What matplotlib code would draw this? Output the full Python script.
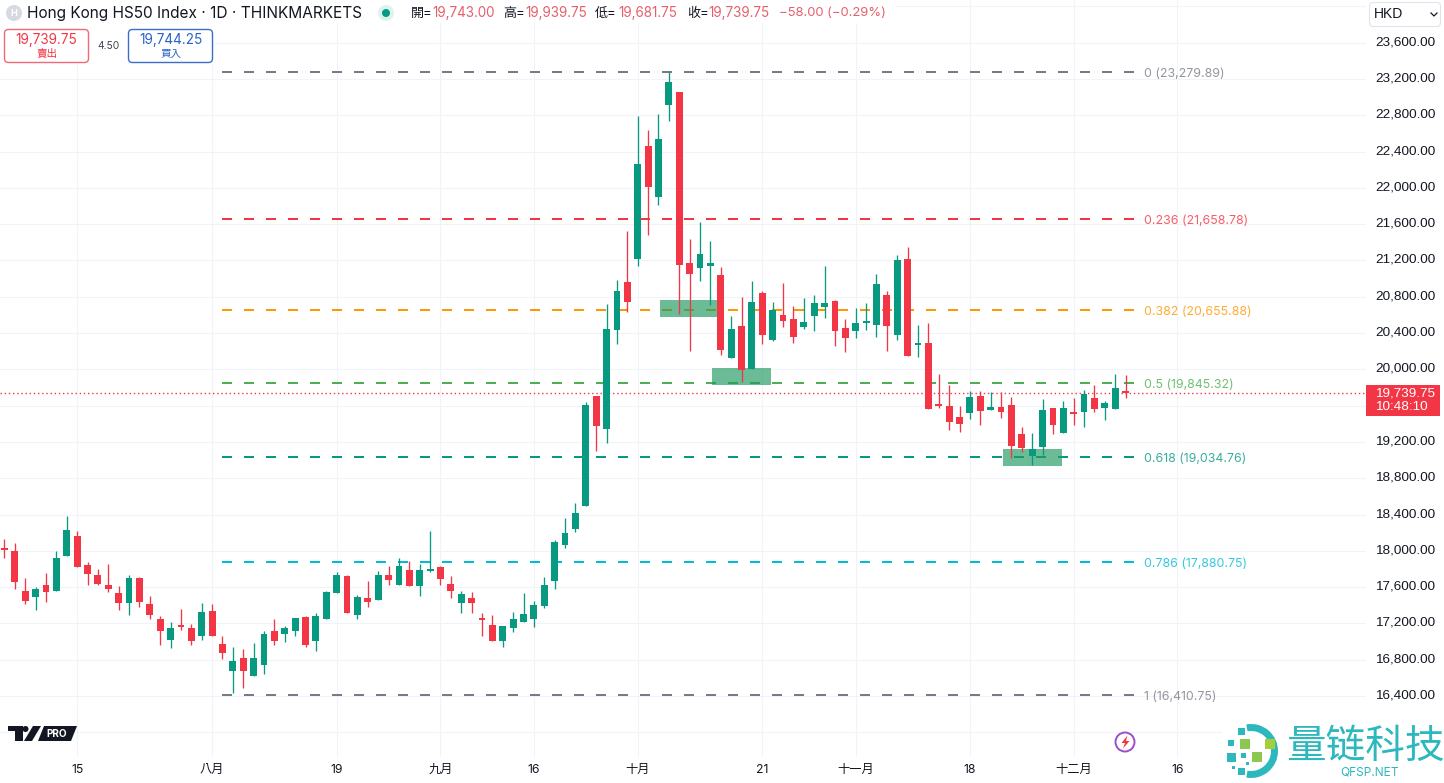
import matplotlib
matplotlib.use("Agg")
import matplotlib.pyplot as plt
from matplotlib.patches import Rectangle, FancyBboxPatch, Circle, Polygon, Wedge
from matplotlib.transforms import ScaledTranslation

plt.rcParams['font.family'] = ['Inter', 'Noto Sans CJK TC', 'DejaVu Sans']

opens = [18032, 17999, 17558, 17492, 17624, 17558, 17944, 18165, 17845, 17735,
         17624, 17536, 17426, 17701, 17415, 17249, 17018, 17172, 17150, 17062,
         17337, 16974, 16676, 16819, 16621, 16742, 17117, 17084, 17117, 17271,
         17007, 17249, 17536, 17724, 17293, 17481, 17459, 17735, 17624, 17790,
         17613, 17779, 17823, 17635, 17426, 17481, 17260, 17183, 17007, 17150,
         17216, 17249, 17393, 17668, 18065, 18242, 18496, 19709, 19345, 20437,
         20966, 21220, 22466, 21904, 22908, 23051, 21176, 21121, 21143, 21044,
         20128, 20481, 20007, 20845, 20327, 20602, 20558, 20470, 20591, 20691,
         20757, 20459, 20426, 20514, 20492, 20823, 20382, 21220, 20271, 20294,
         19610, 19599, 19477, 19521, 19709, 19555, 19588, 19610, 19290, 19047,
         19146, 19577, 19301, 19521, 19532, 19687, 19577, 19566, 19743]
highs = [18132, 18084, 17698, 17599, 17753, 17999, 18385, 18220, 17875, 17797,
         17856, 17613, 17735, 17709, 17503, 17282, 17216, 17360, 17194, 17426,
         17415, 17062, 16940, 16918, 16985, 17117, 17249, 17172, 17260, 17282,
         17315, 17558, 17768, 17735, 17514, 17668, 17779, 17834, 17922, 17889,
         17856, 18220, 17834, 17724, 17558, 17547, 17315, 17293, 17172, 17326,
         17536, 17448, 17713, 18121, 18363, 18529, 19643, 19709, 20724, 20988,
         21529, 22797, 22632, 22819, 23280, 23051, 21441, 21628, 21419, 21132,
         20591, 20801, 20977, 20867, 20746, 20955, 20702, 20790, 20823, 21143,
         20768, 20558, 20680, 20735, 21055, 20867, 21264, 21352, 20492, 20514,
         19952, 19830, 19599, 19764, 19764, 19753, 19753, 19698, 19367, 19301,
         19676, 19577, 19654, 19687, 19775, 19830, 19654, 19952, 19939.75]
lows = [17922, 17580, 17415, 17349, 17440, 17558, 17944, 17823, 17624, 17624,
        17550, 17349, 17293, 17385, 17249, 16962, 16929, 17128, 16962, 17018,
        17062, 16808, 16433, 16488, 16621, 16643, 16962, 16996, 17062, 16940,
        16896, 17249, 17536, 17315, 17249, 17382, 17459, 17624, 17624, 17613,
        17503, 17768, 17624, 17481, 17315, 17315, 17062, 17007, 16940, 17106,
        17216, 17161, 17371, 17580, 18032, 18209, 18496, 19102, 19191, 20283,
        20635, 21143, 21485, 21816, 22742, 20613, 20205, 20977, 20713, 20161,
        20128, 19863, 20007, 20283, 20316, 20470, 20294, 20448, 20426, 20569,
        20260, 20194, 20349, 20437, 20360, 20205, 20327, 20150, 20139, 19566,
        19577, 19334, 19312, 19455, 19389, 19555, 19466, 19025, 19091, 18948,
        19058, 19290, 19301, 19389, 19367, 19532, 19444, 19566, 19681.75]
closes = [18012, 17661, 17448, 17580, 17547, 17922, 18231, 17823, 17746, 17635,
          17580, 17426, 17701, 17437, 17293, 17117, 17150, 17161, 17007, 17326,
          17062, 16874, 16786, 16676, 16819, 17084, 17007, 17150, 17260, 16962,
          17282, 17547, 17735, 17315, 17492, 17437, 17735, 17679, 17834, 17613,
          17790, 17790, 17690, 17558, 17525, 17426, 17238, 17007, 17172, 17249,
          17304, 17404, 17624, 18099, 18198, 18418, 19610, 19378, 20448, 20867,
          20746, 22268, 22014, 22533, 23161, 21154, 21055, 21275, 21176, 20216,
          20448, 19996, 20746, 20382, 20658, 20536, 20360, 20525, 20735, 20735,
          20426, 20349, 20514, 20536, 20944, 20481, 21209, 20150, 20283, 19566,
          19599, 19422, 19400, 19698, 19543, 19588, 19532, 19157, 19135, 19124,
          19555, 19389, 19577, 19510, 19731, 19566, 19632, 19797, 19739.75]

fib_ratios = ["0", "0.236", "0.382", "0.5", "0.618", "0.786", "1"]
fib_prices = [23279.89, 21658.78, 20655.88, 19845.32, 19034.76, 17880.75, 16410.75]
fib_colors = ["#787B86", "#F23645", "#FF9800", "#4CAF50", "#089981", "#00BCD4", "#787B86"]

# zones: left bar, right bar, top price, bottom price
zone_left = [63.15, 68.16, 96.2]
zone_right = [68.64, 73.84, 101.9]
zone_top = [20764, 20015, 19122]
zone_bottom = [20577, 19827, 18935]

y_ticks = [16000, 16400, 16800, 17200, 17600, 18000, 18400, 18800, 19200, 19600,
           20000, 20400, 20800, 21200, 21600, 22000, 22400, 22800, 23200, 23600, 24000]
y_hidden = [16000, 19600, 24000]
x_ticks = [7, 20, 32, 42, 51, 61, 73, 82, 93, 103, 113]
x_labels = ["15", "八月", "19", "九月", "16", "十月", "21", "十一月", "18", "十二月", "16"]

UP = "#089981"
DOWN = "#F23645"
TEXT = "#131722"
AXIS_FONT = ['Liberation Sans', 'DejaVu Sans']

fig = plt.figure(figsize=(14.44, 7.83), dpi=100)
ax = fig.add_axes([0, 26 / 783, 1366 / 1444, 757 / 783])
ax.set_xlim(-0.4335, 131.16)
ax.set_ylim(15728, 24070)

ax.set_axisbelow(True)
ax.grid(color="#F0F3FA", linewidth=0.75)
for s in ax.spines.values():
    s.set_visible(False)

ax.set_xticks(x_ticks)
ax.set_xticklabels(x_labels, fontsize=8.8, color=TEXT)
ax.set_yticks(y_ticks)
ax.set_yticklabels(["" if t in y_hidden else f"{t:,.2f}" for t in y_ticks],
                   fontsize=9.7, color=TEXT, family=AXIS_FONT)
ax.yaxis.tick_right()
ax.tick_params(axis="both", length=0)
ax.tick_params(axis="y", pad=6.5)
ax.tick_params(axis="x", pad=5)
shift = ScaledTranslation(0, 1.4 / 72, fig.dpi_scale_trans)
for lab in ax.get_yticklabels():
    lab.set_transform(lab.get_transform() + shift)

# fibonacci levels
for ratio, price, col in zip(fib_ratios, fib_prices, fib_colors):
    ax.plot([20.95, 108.9], [price, price], color=col, lw=1.44, dashes=(5, 6), zorder=2)
    ax.annotate(f"{ratio} ({price:,.2f})", (109.8, price), xytext=(0, -1.4),
                textcoords="offset points", color=col, alpha=0.8, fontsize=8.9,
                va="center", ha="left", zorder=2)

for l, r, t, b in zip(zone_left, zone_right, zone_top, zone_bottom):
    ax.add_patch(Rectangle((l, b), r - l, t - b, facecolor="#1F9960", alpha=0.66,
                           edgecolor="none", zorder=3))

# last price line
ax.axhline(closes[-1], color=DOWN, lw=1.0, dashes=(1, 2), zorder=2)

# candles
for i in range(len(opens)):
    col = UP if closes[i] >= opens[i] else DOWN
    ax.vlines(i, lows[i], highs[i], color=col, lw=0.95, zorder=4)
    top = max(opens[i], closes[i])
    bot = min(opens[i], closes[i])
    ax.bar(i, max(top - bot, 20), bottom=bot, width=0.66, color=col, linewidth=0, zorder=5)

# everything around the chart, in pixel coordinates
ov = fig.add_axes([0, 0, 1, 1], zorder=10)
ov.set_xlim(0, 1444)
ov.set_ylim(783, 0)
ov.axis("off")


def label(x, y, s, color=TEXT, size=9.0, ha="left", **kw):
    ov.text(x, y, s, color=color, fontsize=size, ha=ha, va="center", **kw)


def box(x0, y0, x1, y1, edge, face="white", lw=1.0, rad=4):
    ov.add_patch(FancyBboxPatch((x0 + rad, y0 + rad), x1 - x0 - 2 * rad, y1 - y0 - 2 * rad,
                                boxstyle=f"round,pad={rad},rounding_size={rad}",
                                edgecolor=edge, facecolor=face, linewidth=lw))


# header area has no grid behind it
ov.add_patch(Rectangle((0, 0), 895, 23, facecolor="white", edgecolor="none"))
ov.add_patch(Rectangle((0, 23), 214, 42, facecolor="white", edgecolor="none"))
ov.add_patch(Rectangle((1222, 716), 222, 67, facecolor="white", edgecolor="none"))

ov.add_patch(Circle((14, 13), 8, facecolor="#D6D9E2", edgecolor="none"))
label(14, 13, "H", color="white", size=6.5, ha="center", weight="bold")
label(27, 13.5, "Hong Kong HS50 Index · 1D · THINKMARKETS", size=11.08)
ov.add_patch(Circle((386, 13), 8, facecolor="#DDF3EE", edgecolor="none"))
ov.add_patch(Circle((386, 13), 4, facecolor=UP, edgecolor="none"))

VAL = "#E4606D"
label(411, 13.5, "開=", size=9.4)
label(432, 13.5, "19,743.00", color=VAL, size=9.7)
label(503, 13.5, "高=", size=9.4)
label(525, 13.5, "19,939.75", color=VAL, size=9.7)
label(595, 13.5, "低=", size=9.4)
label(618, 13.5, "19,681.75", color=VAL, size=9.7)
label(687, 13.5, "收=", size=9.4)
label(708, 13.5, "19,739.75", color=VAL, size=9.7)
label(779, 13.5, "−58.00 (−0.29%)", color=VAL, size=9.4)

box(4.5, 29.5, 88.5, 62.5, "#EE6A76")
label(46.5, 40, "19,739.75", color=DOWN, size=9.8, ha="center")
label(46.5, 54, "賣出", color=DOWN, size=7.6, ha="center")
label(108, 46, "4.50", size=7.4, ha="center", alpha=0.8)
box(128.5, 29.5, 212.5, 62.5, "#3C6EC8")
label(170.5, 40, "19,744.25", color="#2962C8", size=9.8, ha="center")
label(170.5, 54, "買入", color="#2962C8", size=7.6, ha="center")

# currency box
box(1369.5, 2.5, 1440.5, 26.5, "#E0E3EB", lw=0.8)
label(1374, 14.5, "HKD", size=10, family=AXIS_FONT)
ov.plot([1431, 1434, 1437], [13, 16, 13], color=TEXT, lw=0.9)

# last price tag
ov.add_patch(Rectangle((1366, 385), 74, 31, facecolor=DOWN, edgecolor="none"))
label(1375, 393.5, "19,739.75", color="white", size=9.7, family=AXIS_FONT)
label(1375, 407, "10:48:10", color="white", size=9.7, family=AXIS_FONT)

# TV PRO logo
ov.add_patch(Polygon([(8, 726), (23, 726), (23, 741), (15, 741), (15, 731), (8, 731)],
                     facecolor=TEXT, edgecolor="none"))
ov.add_patch(Circle((25.5, 729), 3, facecolor=TEXT, edgecolor="none"))
ov.add_patch(Polygon([(33, 726), (41, 726), (32, 741), (24, 741)], facecolor=TEXT, edgecolor="none"))
ov.add_patch(Polygon([(44, 726), (77, 726), (71, 741), (38, 741)], facecolor=TEXT, edgecolor="none"))
label(57, 734, "PRO", color="white", size=7.2, ha="center", weight="bold")

# lightning badge
ov.add_patch(Circle((1125, 742), 9.5, facecolor="white", edgecolor="#9C4DCC", linewidth=1.4))
ov.add_patch(Polygon([(1127.5, 735.5), (1121.5, 743), (1125, 743), (1123, 748.5), (1129.5, 741), (1126, 741)],
                     facecolor=DOWN, edgecolor="none"))

# watermark
TEAL = "#2DB8BE"
ov.add_patch(Wedge((1251, 751), 27, -100, 100, width=7, facecolor=TEAL, edgecolor="none"))
for x, y, c, s in [(1241, 731, TEAL, 7), (1231, 743, TEAL, 6), (1245, 744, "#8CC850", 10),
                   (1270, 744, "#A6CE39", 10), (1231, 757, TEAL, 9), (1257, 757, "#8CC850", 10),
                   (1243, 755, TEAL, 5), (1241, 771, TEAL, 7), (1233, 767, TEAL, 3), (1247, 763, TEAL, 3)]:
    ov.add_patch(Rectangle((x - s / 2, y - s / 2), s, s, facecolor=c, edgecolor="none"))
ov.text(1365.5, 747, "量链科技", color=TEAL, fontsize=28.5, ha="center", va="center",
        family=['Noto Sans CJK SC', 'DejaVu Sans'])
label(1370, 772, "QFSP.NET", color=TEAL, size=8.6, ha="center")

fig.savefig("out.png", dpi=100)
